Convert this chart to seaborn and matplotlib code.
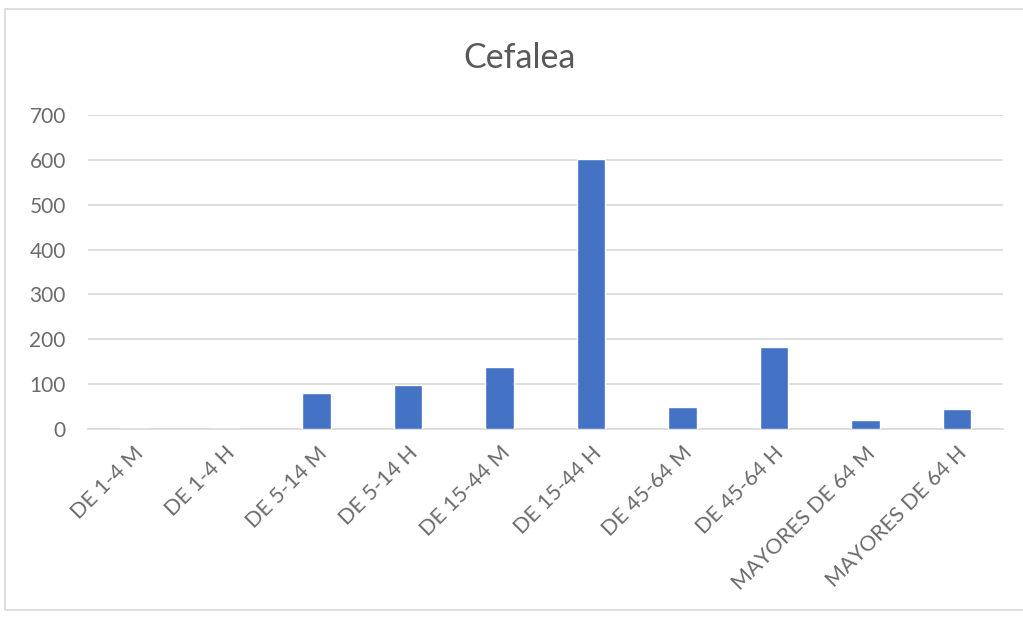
import matplotlib
matplotlib.use("Agg")
import matplotlib.pyplot as plt
import seaborn as sns
import pandas as pd
from matplotlib.patches import Rectangle

categories = ["DE 1-4 M", "DE 1-4 H", "DE 5-14 M", "DE 5-14 H", "DE 15-44 M",
              "DE 15-44 H", "DE 45-64 M", "DE 45-64 H", "MAYORES DE 64 M", "MAYORES DE 64 H"]
values = [0, 0, 80, 98, 139, 602, 49, 183, 20, 45]
yticks = [0, 100, 200, 300, 400, 500, 600, 700]
title = "Cefalea"

df = pd.DataFrame({"cat": categories, "val": values})

sns.set_theme(style="white")
plt.rcParams["font.family"] = ["Lato", "DejaVu Sans"]

fig = plt.figure(figsize=(10.23, 6.24), dpi=100)
fig.patch.set_facecolor("white")
ax = fig.add_axes([0.086, 0.3125, 0.894, 0.503])

sns.barplot(data=df, x="cat", y="val", color="#4472C4", width=0.31,
            saturation=1, ax=ax, zorder=3)

ax.set_ylim(0, 700)
ax.set_yticks(yticks)
ax.set_yticklabels([str(t) for t in yticks], color="#6b6b6b", fontsize=15)
ax.set_xlim(-0.5, len(categories) - 0.5)
ax.grid(axis="y", color="#d9d9d9", linewidth=1.2, zorder=0)
ax.set_xlabel("")
ax.set_ylabel("")
ax.set_xticks(range(len(categories)))
ax.set_xticklabels(categories, rotation=45, ha="right", rotation_mode="anchor",
                   color="#6b6b6b", fontsize=15.5)
ax.tick_params(axis="y", length=0, pad=16)
ax.tick_params(axis="x", length=0, pad=10)
for s in ["top", "right", "left"]:
    ax.spines[s].set_visible(False)
ax.spines["bottom"].set_color("#d9d9d9")
ax.spines["bottom"].set_linewidth(1.2)

fig.text(0.508, 0.907, title, ha="center", va="center", fontsize=24.5, color="#595959")

fig.patches.append(Rectangle((0.005, 0.022), 1.2, 0.963, transform=fig.transFigure,
                             fill=False, edgecolor="#d9d9d9", linewidth=1.2))

fig.savefig("out.png", dpi=100)
